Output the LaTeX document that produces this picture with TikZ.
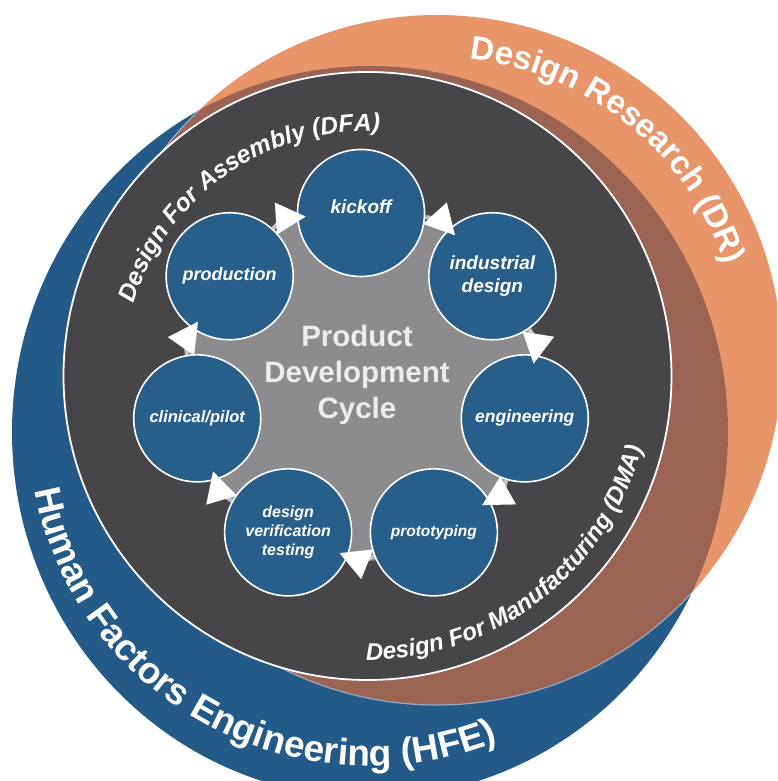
\documentclass[tikz,border=0pt]{standalone}
\usepackage{fontspec}
\setmainfont{Liberation Sans}
\usetikzlibrary{arrows.meta,decorations.text}
\definecolor{hfeblue}{HTML}{235A87}
\definecolor{stageblue}{HTML}{285F8A}
\definecolor{drorange}{HTML}{E8956A}
\definecolor{drbrown}{HTML}{9A6352}
\definecolor{corebg}{HTML}{464648}
\definecolor{hubgray}{HTML}{8C8C8E}
\definecolor{rimgray}{HTML}{C2C2C2}
\definecolor{rimblue}{HTML}{93AACB}
\newcommand{\ringfont}[1]{\fontsize{#1}{#1}\selectfont\bfseries\color{white}}

\begin{document}
\begin{tikzpicture}[x=1pt,y=1pt,
    stage/.style={circle,draw=white,line width=1.6pt,fill=stageblue,minimum size=127pt,inner sep=0pt,
        text=white,align=center,font=\fontsize{17}{20}\selectfont\bfseries\itshape},
    hub/.style={circle,fill=hubgray,minimum size=352pt,inner sep=0pt},
    title/.style={text=white!93!black,align=center,font=\fontsize{29.5}{36}\selectfont\bfseries},
    flow/.style={draw=rimgray,line width=4pt,bend left=22,shorten >=-9pt,
        -{Triangle[length=30pt,width=31pt,color=white]}}]
    \useasboundingbox (0,0) rectangle (777,781);
    \clip (0,0) rectangle (777,781);
    % outer rings
    \fill[hfeblue] (370,349) ellipse [x radius=358,y radius=366];
    \fill[drorange] (437,421) circle [radius=345];
    \begin{scope}
        \clip (370,349) ellipse [x radius=358,y radius=366];
        \fill[drbrown] (437,421) circle [radius=345];
        \draw[rimblue,line width=1.2pt] (437,421) circle [radius=345];
    \end{scope}
    \filldraw[fill=corebg,draw=white,line width=1.8pt] (367.5,405) circle [radius=304];
    % ring labels
    \path[decorate,decoration={text along path,text align=center,
        text={|\ringfont{33}|Design Research (DR)}}]
        ([shift={(101:303)}]437,421) arc [start angle=101,end angle=1,radius=303];
    \path[decorate,decoration={text along path,text align=center,
        text={|\ringfont{37}|Human Factors Engineering (HFE)}}]
        ([shift={(180:340 and 334)}]370,349) arc [start angle=180,end angle=302,x radius=340,y radius=334];
    \path[decorate,decoration={text along path,text align=center,
        text={|\ringfont{24.5}\itshape|Design For Assembly (DFA)}}]
        ([shift={(175:245)}]367.5,405) arc [start angle=175,end angle=75,radius=245];
    \path[decorate,decoration={text along path,text align=center,
        text={|\ringfont{24}\itshape|Design For Manufacturing (DMA)}}]
        ([shift={(260:284)}]367.5,405) arc [start angle=260,end angle=355,radius=284];
    % cycle
    \node[hub] (hub) at (361,396) {};
    \node[title] (title) at (357,406) {Product\\Development\\Cycle};
    \coordinate (ring) at (361,400);
    \node[stage,font=\fontsize{19}{23}\selectfont\bfseries\itshape] (kickoff) at ([shift={(90:168)}]ring) {kickoff\\[-10pt]};
    \node[stage,font=\fontsize{19}{23}\selectfont\bfseries\itshape] (industrial) at ([shift={(38.57:168)}]ring) {industrial\\design};
    \node[stage,font=\fontsize{17.5}{20}\selectfont\bfseries\itshape] (engineering) at ([shift={(-12.86:168)}]ring) {engineering};
    \node[stage,font=\fontsize{15.5}{19}\selectfont\bfseries\itshape] (prototyping) at ([shift={(-64.29:168)}]ring) {prototyping};
    \node[stage,font=\fontsize{16}{19}\selectfont\bfseries\itshape] (verification) at ([shift={(-115.71:168)}]ring) {design\\verification\\testing};
    \node[stage,font=\fontsize{16.5}{19}\selectfont\bfseries\itshape] (clinical) at ([shift={(-167.14:168)}]ring) {clinical/pilot};
    \node[stage,font=\fontsize{18}{20}\selectfont\bfseries\itshape] (production) at ([shift={(141.43:168)}]ring) {production};
    \path
        (kickoff) edge[flow] (industrial)
        (industrial) edge[flow] (engineering)
        (engineering) edge[flow] (prototyping)
        (prototyping) edge[flow] (verification)
        (verification) edge[flow] (clinical)
        (clinical) edge[flow] (production)
        (production) edge[flow] (kickoff);
\end{tikzpicture}
\end{document}
